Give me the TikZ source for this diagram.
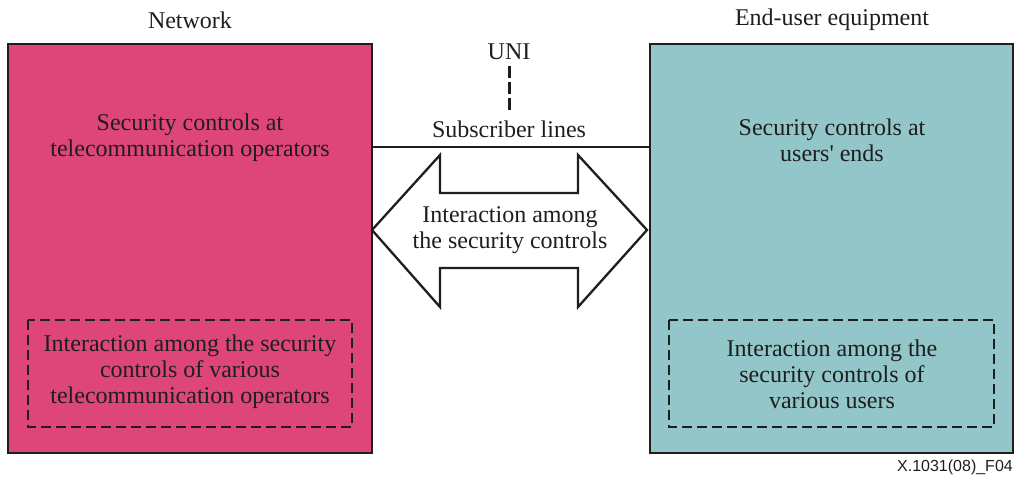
\documentclass[tikz,border=0pt]{standalone}
\usepackage{fontspec}
\setmainfont{Liberation Serif}
\newfontfamily\labelfont{Liberation Sans}
\definecolor{netpink}{RGB}{222,70,122}
\definecolor{userteal}{RGB}{146,198,200}
\definecolor{inkline}{RGB}{30,30,30}
\begin{document}
\begin{tikzpicture}[x=1pt,y=-1pt,
  txt/.style={font=\fontsize{24}{26}\selectfont, align=center, text=inkline, inner sep=0pt},
  domainbox/.style={draw=inkline, line width=2.3pt, inner sep=0pt},
  dashbox/.style={draw=inkline, line width=2.5pt, dash pattern=on 10pt off 5pt, inner sep=0pt},
  link/.style={draw=inkline, line width=2.3pt}]
\useasboundingbox (0,0) rectangle (1014,477);

% the two domains
\path[domainbox, fill=netpink] (8,44) rectangle (372,453);
\path[domainbox, fill=userteal] (650,44) rectangle (1013,453);
\coordinate (netR) at (372,147);
\coordinate (usrL) at (650,147);

% headings
\node[txt] (netT) at (190,20) {Network};
\node[txt] (usrT) at (832,20) {End-user equipment};

% main texts
\node[txt] (netS) at (190,138) {Security controls at\\telecommunication operators};
\node[txt] (usrS) at (832,140) {Security controls at\\users\textquotesingle{} ends};

% inner dashed boxes
\path[dashbox] (28,320) rectangle (352,427);
\path[dashbox] (669,320) rectangle (994,427);
\node[txt] (netI) at (190,372) {Interaction among the security\\controls of various\\telecommunication operators};
\node[txt] (usrI) at (832,374) {Interaction among the\\security controls of\\various users};

% subscriber line and UNI
\draw[link] (netR) -- (usrL);
\node[txt] (subl) at (509,129) {Subscriber lines};
\node[txt] (uni) at (509,52) {UNI};
\coordinate (uniTop) at (509,66);
\coordinate (uniBot) at (509,110);
\draw[link, line width=3pt, dash pattern=on 12pt off 4pt] (uniTop) -- (uniBot);

% double arrow between domains
\draw[draw=inkline, line width=2.3pt, fill=white, line join=miter]
  (372,230) -- (440,155) -- (440,193) -- (578,193) -- (578,155) -- (647,230)
  -- (578,307) -- (578,268) -- (440,268) -- (440,307) -- cycle;
\node[txt] (arrT) at (510,230.5) {Interaction among\\the security controls};

% figure label
\node[font=\labelfont\fontsize{16}{18}\selectfont, anchor=east, inner sep=0pt, text=inkline] (fig) at (1013,467) {X.1031(08)\_F04};
\end{tikzpicture}
\end{document}
